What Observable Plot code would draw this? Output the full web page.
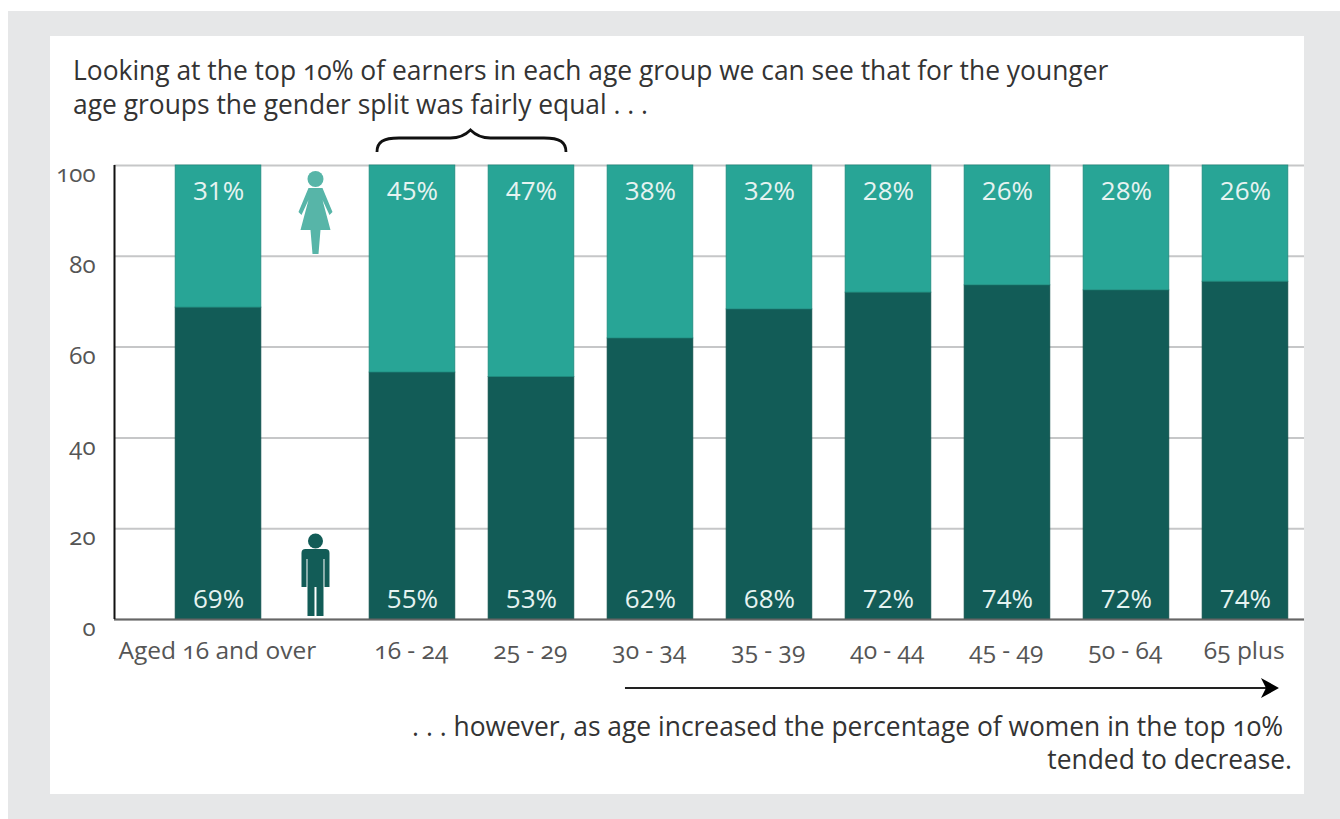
<!DOCTYPE html>
<html><head><meta charset="utf-8">
<script src="https://cdn.jsdelivr.net/npm/d3@7"></script>
<script src="https://cdn.jsdelivr.net/npm/@observablehq/plot@0.6"></script>
<style>
html,body{margin:0;padding:0;background:#fff;overflow:hidden}
body{width:1340px;height:819px;position:relative;font-family:"Open Sans",sans-serif}
#shell{position:absolute;left:8px;top:11px;right:0;bottom:0;background:#e6e7e8}
#panel{position:absolute;left:42px;top:25px;width:1254px;height:758px;background:#fff}
#title{position:absolute;left:23px;top:17px;font-size:26.4px;line-height:34px;color:#333;white-space:nowrap;font-variant-numeric:oldstyle-nums}
#chart{position:absolute;left:0;top:94px}
#caption{position:absolute;right:12px;top:674px;font-size:26.4px;line-height:33px;color:#333;text-align:right;white-space:nowrap;font-variant-numeric:oldstyle-nums}
#caption span{padding-right:9px}
svg{overflow:visible}
</style></head><body>
<div id="shell"><div id="panel">
<div id="title">Looking at the top 10% of earners in each age group we can see that for the younger<br>age groups the gender split was fairly equal . . .</div>
<div id="chart"></div>
<div id="caption"><span>. . . however, as age increased the percentage of women in the top 10%</span><br>tended to decrease.</div>
</div></div>
<script>
const ageGroups = ["Aged 16 and over","16 - 24","25 - 29","30 - 34","35 - 39","40 - 44","45 - 49","50 - 64","65 plus"];
const menLabel   = [69,55,53,62,68,72,74,72,74];
const womenLabel = [31,45,47,38,32,28,26,28,26];
const menHeight  = [68.7,54.4,53.4,61.9,68.3,72,73.6,72.5,74.4];
const yTicks = [0,20,40,60,80,100];

const iconGap = 0.63;          // extra room after the first bar for the icons
const slot = i => i === 0 ? 0 : i + iconGap;
const halfBar = 0.36;
const rows = ageGroups.map((age,i)=>({age,i,men:menHeight[i],menText:menLabel[i],womenText:womenLabel[i]}));

const TEAL="#28a596", DARK="#125c57", WOMAN="#57b5a8";

function annotations(index,{x,y},channels,dims){
  const g = d3.create("svg:g");
  const top=y(100), base=y(0);
  // brace over the 16-24 and 25-29 bars
  const x0=x(slot(1))-35, x1=x(slot(2))+35, mid=(x0+x1)/2-1, by=top-33;
  g.append("path").attr("fill","none").attr("stroke","#111").attr("stroke-width",2.8)
   .attr("d",`M${x0},${by+20}C${x0},${by+10} ${x0+6},${by+6} ${x0+22},${by+6}L${mid-20},${by+6}C${mid-10},${by+6} ${mid-4},${by+2} ${mid},${by-2}C${mid+4},${by+2} ${mid+10},${by+6} ${mid+20},${by+6}L${x1-22},${by+6}C${x1-6},${by+6} ${x1},${by+10} ${x1},${by+20}`);
  // icons between the first two bars
  const cx=(x(slot(0))+x(slot(1)))/2+0.5;
  const w=g.append("g").attr("transform",`translate(${cx},${top})`).attr("fill",WOMAN);
  w.append("circle").attr("cy",14).attr("r",8);
  w.append("path").attr("d","M-7,23L7,23L17,47L14,50L7,35L15,65L5,65L3,89L-3,89L-5,65L-15,65L-7,35L-14,50L-17,47Z");
  const m=g.append("g").attr("transform",`translate(${cx},${base})`).attr("fill",DARK);
  m.append("circle").attr("cy",-78).attr("r",7.5);
  m.append("path").attr("d","M-10,-70L10,-70Q14,-70 14,-66L14,-32L9,-32L9,-60L8,-60L8,-3L1,-3L1,-32L-1,-32L-1,-3L-8,-3L-8,-60L-9,-60L-9,-32L-14,-32L-14,-66Q-14,-70 -10,-70Z");
  // arrow under the later age groups
  const ax0=x(slot(3))-25, ax1=x(slot(8))+34, ay=base+69;
  g.append("line").attr("x1",ax0).attr("x2",ax1-12).attr("y1",ay).attr("y2",ay).attr("stroke","#222").attr("stroke-width",2);
  g.append("path").attr("fill","#000").attr("d",`M${ax1},${ay}L${ax1-18},${ay-10}L${ax1-13},${ay}L${ax1-18},${ay+10}Z`);
  return g.node();
}

const plot = Plot.plot({
  width:1254, height:580,
  marginLeft:64, marginRight:0, marginTop:35, marginBottom:91,
  style:{background:"transparent",fontFamily:"'Open Sans',sans-serif",overflow:"visible"},
  x:{type:"linear",domain:[-0.874,9.126],axis:null},
  y:{domain:[0,100],axis:null},
  marks:[
    Plot.gridY(yTicks,{stroke:"#c6c7c8",strokeOpacity:1,strokeWidth:2}),
    Plot.rectY(rows,{x1:d=>slot(d.i)-halfBar,x2:d=>slot(d.i)+halfBar,y1:0,y2:"men",fill:DARK,stroke:"#0e4f4a",strokeWidth:0.8}),
    Plot.rectY(rows,{x1:d=>slot(d.i)-halfBar,x2:d=>slot(d.i)+halfBar,y1:"men",y2:100,fill:TEAL,stroke:"#1f8a7e",strokeWidth:0.8}),
    Plot.ruleY([0],{stroke:"#666",strokeWidth:2}),
    Plot.ruleX([-0.874],{y1:0,y2:100,stroke:"#111",strokeWidth:2}),
    Plot.axisY({ticks:yTicks,tickSize:0,tickPadding:19,dy:9,label:null,fontSize:24,color:"#555",fontVariant:"oldstyle-nums"}),
    Plot.text(rows,{x:d=>slot(d.i),y:100,dy:26,text:d=>d.womenText+"%",fill:"#e6f3f1",fontSize:26}),
    Plot.text(rows,{x:d=>slot(d.i),y:0,dy:-20,text:d=>d.menText+"%",fill:"#e6f3f1",fontSize:26}),
    Plot.text(rows,{x:d=>slot(d.i)-0.01,y:0,dy:32,text:"age",fill:"#555",fontSize:24.5,fontVariant:"oldstyle-nums"}),
    annotations
  ]
});
document.getElementById("chart").append(plot);
</script>
</body></html>
